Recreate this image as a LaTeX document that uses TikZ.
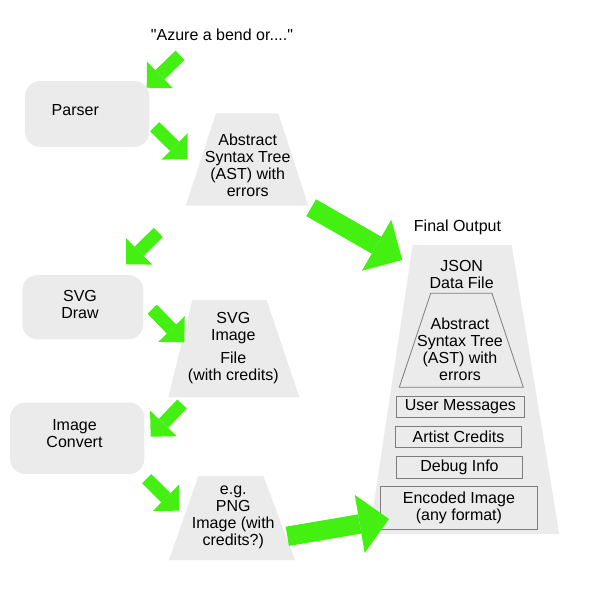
\documentclass[tikz,border=0pt]{standalone}
\usepackage{fontspec}
\setmainfont{Liberation Sans}[Ligatures=TeXOff]
\usetikzlibrary{arrows.meta}
\definecolor{boxgray}{RGB}{235,235,235}
\definecolor{edgegray}{RGB}{125,125,125}
\definecolor{flowgreen}{RGB}{68,240,17}
\tikzset{
  procbox/.style={fill=boxgray, rounded corners=15pt, inner sep=0pt},
  databox/.style={fill=boxgray},
  partbox/.style={draw=edgegray, line width=0.8pt, inner sep=0pt},
  txt/.style={align=center, inner sep=0pt, font=\fontsize{16}{17}\selectfont},
  flow/.style={draw=flowgreen, line width=13pt,
    -{Triangle[length=18.4pt,width=37pt,line width=0pt]}},
  bigflow/.style={draw=flowgreen, line width=19.5pt,
    -{Triangle[length=29.7pt,width=59pt,line width=0pt]}}
}
\begin{document}
\begin{tikzpicture}[x=1pt,y=-1pt]
  \useasboundingbox (0,0) rectangle (600,589);
  % input text
  \node[txt] (input) at (222,35) {"Azure a bend or...."};
  % process boxes
  \node[procbox, minimum width=124.3pt, minimum height=65.7pt] (parser) at (87.2,113.9) {};
  \node[txt] (parsertxt) at (75.3,110) {Parser};
  \node[procbox, minimum width=121pt, minimum height=64.3pt] (svgdraw) at (82.8,307.2) {};
  \node[txt] (svgdrawtxt) at (80,304.4) {SVG\\Draw};
  \node[procbox, minimum width=134.3pt, minimum height=71.3pt] (convert) at (77.2,438.3) {};
  \node[txt] (converttxt) at (74.5,433.2) {Image\\Convert};
  % data files
  \fill[databox] (216,113.3) -- (278.3,113.3) -- (308.3,205.7) -- (185.7,205.7) -- cycle;
  \node[txt] (ast) at (247.7,165.3) {Abstract\\Syntax Tree\\(AST) with\\errors};
  \fill[databox] (192.3,300) -- (266.7,300) -- (299.3,397.3) -- (168.3,397.3) -- cycle;
  \node[txt] (svgfile) at (233.3,347.9) {SVG\\Image\\[6.4pt]File\\(with credits)};
  \fill[databox] (198.3,476) -- (263.3,476) -- (295,560) -- (169,560) -- cycle;
  \node[txt] (pngfile) at (233.3,517.6) {e.g.\\PNG\\Image (with\\credits?)};
  % final output
  \node[txt] (finallbl) at (457.5,227.4) {Final Output};
  \fill[databox] (412.7,245) -- (511.7,245) -- (559.3,534) -- (369.3,534) -- cycle;
  \node[txt] (json) at (461.7,274.4) {JSON\\Data File};
  \draw[edgegray, line width=0.8pt] (430.7,293.3) -- (492,293.3) -- (523.3,387.3) -- (399.3,387.3) -- cycle;
  \node[txt] (jsonast) at (460,349.3) {Abstract\\Syntax Tree\\(AST) with\\errors};
  \node[partbox, txt, minimum width=127.3pt, minimum height=21.3pt] (usermsg) at (460.4,406.7) {User Messages};
  \node[partbox, txt, minimum width=126.4pt, minimum height=21pt] (credits) at (458.5,437.2) {Artist Credits};
  \node[partbox, txt, minimum width=126.4pt, minimum height=21.6pt] (debug) at (459.5,467.5) {Debug Info};
  \node[partbox, txt, minimum width=157.7pt, minimum height=43.3pt] (encoded) at (458.9,507.7) {Encoded Image\\(any format)};
  % arrow ends
  \coordinate (f1a) at (180,55.3);    \coordinate (f1b) at (146.7,87.7);
  \coordinate (f2a) at (154.7,126.7); \coordinate (f2b) at (187.7,159.3);
  \coordinate (f3a) at (158.3,232.5); \coordinate (f3b) at (126,264.3);
  \coordinate (f4a) at (152.2,309.2); \coordinate (f4b) at (184.3,342.3);
  \coordinate (f5a) at (182,404);     \coordinate (f5b) at (150.7,436.7);
  \coordinate (f6a) at (146.7,478.7); \coordinate (f6b) at (179,510.7);
  \coordinate (f7a) at (311.2,207.7); \coordinate (f7b) at (402.3,260);
  \coordinate (f8a) at (287.3,536.3); \coordinate (f8b) at (389,519);
  \foreach \n in {1,...,6}
    \draw[flow] (f\n a) -- (f\n b);
  \draw[bigflow] (f7a) -- (f7b);
  \draw[bigflow] (f8a) -- (f8b);
\end{tikzpicture}
\end{document}
